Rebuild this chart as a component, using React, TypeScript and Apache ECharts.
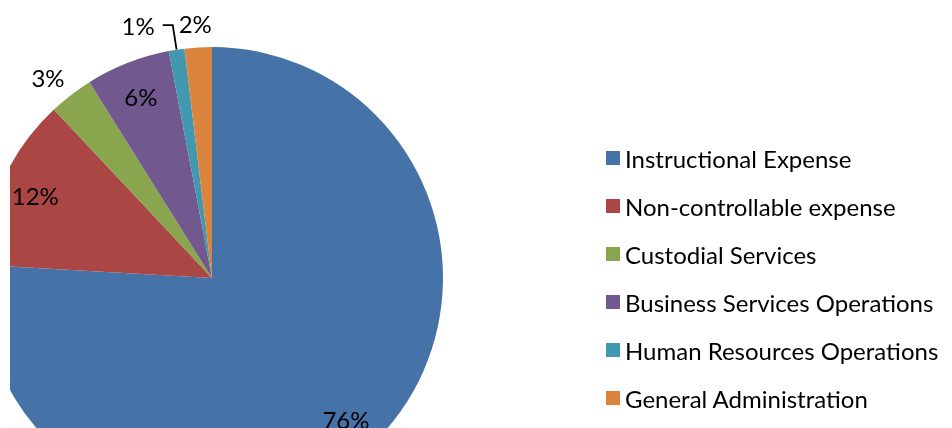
import React, { useEffect, useRef } from "react";
import * as echarts from "echarts";

const categories = [
  "Instructional Expense",
  "Non-controllable expense",
  "Custodial Services",
  "Business Services Operations",
  "Human Resources Operations",
  "General Administration",
];
const shares = [75.9, 12.1, 3.1, 5.9, 1.1, 1.9];
const colors = ["#4572A7", "#AA4643", "#89A54E", "#71588F", "#4198AF", "#DB843D"];
// label placement per slice: inside (overlay ring) or outside (main pie)
const labelInside = [true, true, false, true, false, false];
const outsideLabelCfg = [
  null,
  null,
  { length: 22, length2: -12, dist: 5, line: false },
  null,
  { length: 25, length2: 10, dist: 8, line: true },
  { length: 23.5, length2: -20, dist: 5, line: false },
];

const FONT = "Lato, 'Open Sans', sans-serif";
const FS = 24;

export default function App() {
  const ref = useRef<HTMLDivElement>(null);
  useEffect(() => {
    if (!ref.current) return;
    const chart = echarts.init(ref.current, undefined, { renderer: "svg" });
    const fmt = (p: any) => Math.round(p.percent) + "%";
    const center = [202, 278];
    const mainData = categories.map((name, i) => {
      const cfg = outsideLabelCfg[i];
      const item: any = {
        name,
        value: shares[i],
        itemStyle: { color: colors[i] },
      };
      if (labelInside[i] || !cfg) {
        item.label = { show: false };
        item.labelLine = { show: false };
      } else {
        item.label = {
          show: true,
          position: "outside",
          distanceToLabelLine: cfg.dist,
        };
        item.labelLine = {
          show: cfg.line,
          length: cfg.length,
          length2: cfg.length2,
          smooth: false,
          lineStyle: { color: "#000", width: 1.8 },
        };
      }
      return item;
    });
    const overlayData = categories.map((name, i) => ({
      name,
      value: shares[i],
      label: { show: labelInside[i] },
      labelLine: { show: false },
    }));
    chart.setOption({
      animation: false,
      textStyle: { fontFamily: FONT },
      legend: {
        orient: "vertical",
        left: 596,
        top: 145,
        padding: 0,
        itemWidth: 14,
        itemHeight: 14,
        itemGap: 22,
        icon: "rect",
        selectedMode: false,
        data: categories,
        textStyle: {
          fontFamily: FONT,
          fontSize: FS,
          lineHeight: 26,
          color: "#000",
        },
      },
      series: [
        {
          type: "pie",
          center,
          radius: [0, 231],
          startAngle: 90,
          clockwise: true,
          avoidLabelOverlap: false,
          silent: true,
          emphasis: { disabled: true },
          label: {
            fontFamily: FONT,
            fontSize: FS,
            color: "#000",
            formatter: fmt,
          },
          itemStyle: { borderWidth: 0 },
          data: mainData,
        },
        {
          type: "pie",
          center,
          radius: [153, 231],
          startAngle: 90,
          clockwise: true,
          avoidLabelOverlap: false,
          silent: true,
          emphasis: { disabled: true },
          itemStyle: { color: "rgba(0,0,0,0)", borderWidth: 0 },
          label: {
            position: "inside",
            fontFamily: FONT,
            fontSize: FS,
            color: "#000",
            formatter: fmt,
          },
          data: overlayData,
        },
      ],
    });
    return () => chart.dispose();
  }, []);
  return (
    <div
      ref={ref}
      style={{ position: "fixed", left: 10, top: 0, width: 942, height: 428 }}
    />
  );
}
